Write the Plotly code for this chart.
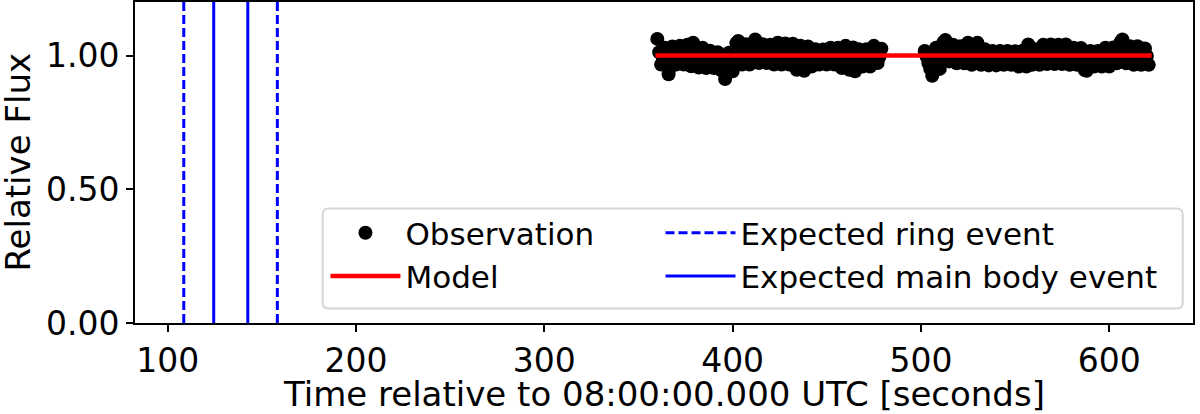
import plotly.graph_objects as go

# Observation: time (s after 08:00:00.000 UTC) and relative flux
obs1_time = [
    360, 361, 362, 363, 364, 365, 366, 367, 368, 369,
    370, 371, 372, 373, 374, 375, 376, 377, 378, 379,
    380, 381, 382, 383, 384, 385, 386, 387, 388, 389,
    390, 391, 392, 393, 394, 395, 396, 397, 398, 399,
    400, 401, 402, 403, 404, 405, 406, 407, 408, 409,
    410, 411, 412, 413, 414, 415, 416, 417, 418, 419,
    420, 421, 422, 423, 424, 425, 426, 427, 428, 429,
    430, 431, 432, 433, 434, 435, 436, 437, 438, 439,
    440, 441, 442, 443, 444, 445, 446, 447, 448, 449,
    450, 451, 452, 453, 454, 455, 456, 457, 458, 459,
    460, 461, 462, 463, 464, 465, 466, 467, 468, 469,
    470, 471, 472, 473, 474, 475, 476, 477, 478, 479,
]
obs1_flux = [
    1.062, 1.012, 0.966, 0.990, 1.029, 0.975, 0.930, 0.958, 1.034, 1.005,
    0.966, 0.992, 1.036, 1.010, 0.966, 0.988, 1.040, 1.008, 0.960, 1.048,
    0.985, 1.015, 0.955, 0.990, 1.029, 1.000, 0.953, 0.985, 1.018, 0.995,
    0.953, 0.980, 1.012, 0.990, 0.945, 0.965, 0.912, 0.940, 1.010, 0.975,
    0.941, 0.985, 1.046, 1.054, 1.000, 0.966, 0.990, 1.042, 1.010, 0.966,
    0.995, 1.035, 1.060, 1.020, 0.972, 0.998, 1.042, 1.010, 0.972, 0.995,
    1.040, 1.005, 0.966, 0.992, 1.048, 1.012, 0.966, 0.990, 1.045, 1.008,
    0.966, 0.995, 1.044, 1.000, 0.947, 0.975, 1.036, 0.995, 0.943, 0.972,
    1.034, 1.000, 0.959, 0.985, 1.023, 0.995, 0.966, 0.990, 1.022, 0.998,
    0.966, 0.992, 1.029, 1.000, 0.966, 0.985, 1.029, 0.995, 0.953, 0.980,
    1.036, 1.005, 0.947, 0.975, 1.030, 0.941, 0.985, 1.023, 0.995, 0.959,
    0.985, 1.023, 1.005, 0.959, 0.988, 1.036, 1.005, 0.972, 0.995, 1.025,
]
obs2_time = [
    502, 503, 504, 505, 506, 507, 508, 509, 510, 511,
    512, 513, 514, 515, 516, 517, 518, 519, 520, 521,
    522, 523, 524, 525, 526, 527, 528, 529, 530, 531,
    532, 533, 534, 535, 536, 537, 538, 539, 540, 541,
    542, 543, 544, 545, 546, 547, 548, 549, 550, 551,
    552, 553, 554, 555, 556, 557, 558, 559, 560, 561,
    562, 563, 564, 565, 566, 567, 568, 569, 570, 571,
    572, 573, 574, 575, 576, 577, 578, 579, 580, 581,
    582, 583, 584, 585, 586, 587, 588, 589, 590, 591,
    592, 593, 594, 595, 596, 597, 598, 599, 600, 601,
    602, 603, 604, 605, 606, 607, 608, 609, 610, 611,
    612, 613, 614, 615, 616, 617, 618, 619, 620, 621,
]
obs2_flux = [
    1.017, 0.995, 0.971, 0.950, 0.924, 0.960, 1.029, 0.990, 0.950, 1.000,
    1.050, 1.058, 1.010, 0.978, 0.998, 1.040, 1.010, 0.971, 0.995, 1.035,
    1.005, 0.971, 0.992, 1.048, 1.010, 0.965, 0.990, 1.040, 1.048, 1.000,
    0.965, 0.988, 1.023, 0.995, 0.963, 0.985, 1.017, 0.995, 0.963, 0.985,
    1.017, 0.998, 0.965, 0.985, 1.017, 1.000, 0.965, 0.988, 1.016, 0.995,
    0.959, 0.982, 1.018, 1.000, 0.959, 1.041, 1.010, 0.965, 0.990, 1.023,
    0.998, 0.965, 0.990, 1.040, 1.005, 0.968, 0.995, 1.041, 1.008, 0.968,
    0.992, 1.040, 1.005, 0.968, 0.995, 1.041, 1.005, 0.965, 0.990, 1.029,
    1.000, 0.965, 0.990, 1.028, 0.995, 0.946, 0.943, 0.975, 1.017, 0.990,
    0.959, 0.985, 1.017, 0.995, 0.959, 0.985, 1.029, 1.000, 0.959, 0.988,
    1.030, 0.998, 0.971, 1.010, 1.050, 1.060, 1.020, 0.971, 0.995, 1.035,
    1.005, 0.965, 0.990, 1.035, 1.000, 0.965, 0.990, 1.026, 0.998, 0.965,
]

model_time = [359.0, 622.5]
model_flux = [1.0, 1.0]

ring_event_times = [108.5, 158.2]
body_event_times = [124.4, 142.5]

x_range = [82.6, 644.5]
y_range = [0.0, 1.2]
x_ticks = [100, 200, 300, 400, 500, 600]
y_ticks = [0.0, 0.5, 1.0]
y_ticklabels = ["0.00", "0.50", "1.00"]

x_title = "Time relative to 08:00:00.000 UTC [seconds]"
y_title = "Relative Flux"

FONT = "DejaVu Sans"


def vlines(times):
    xs, ys = [], []
    for t in times:
        xs += [t, t, None]
        ys += [y_range[0], y_range[1], None]
    return xs, ys


fig = go.Figure()

fig.add_trace(
    go.Scatter(
        x=obs1_time + [None] + obs2_time,
        y=obs1_flux + [None] + obs2_flux,
        mode="markers",
        marker={"color": "black", "size": 14, "line": {"width": 0}},
        name="Observation",
        legend="legend",
    )
)

fig.add_trace(
    go.Scatter(
        x=model_time, y=model_flux, mode="lines",
        line={"color": "red", "width": 4.5},
        name="Model",
        legend="legend",
    )
)

rx, ry = vlines(ring_event_times)
fig.add_trace(
    go.Scatter(
        x=rx, y=ry, mode="lines",
        line={"color": "blue", "width": 3, "dash": "9px,4px"},
        name="Expected ring event",
        legend="legend2",
    )
)

bx, by = vlines(body_event_times)
fig.add_trace(
    go.Scatter(
        x=bx, y=by, mode="lines",
        line={"color": "blue", "width": 3},
        name="Expected main body event",
        legend="legend2",
    )
)

axis_common = dict(
    showgrid=False,
    zeroline=False,
    showline=True,
    linecolor="black",
    linewidth=2,
    mirror=True,
    ticks="outside",
    ticklen=7,
    tickwidth=2,
    tickcolor="black",
    automargin=False,
    tickfont={"size": 33, "color": "black", "family": FONT},
)

fig.update_xaxes(range=x_range, tickvals=x_ticks, **axis_common)
fig.update_yaxes(range=y_range, tickvals=y_ticks, ticktext=y_ticklabels, **axis_common)

# axis titles placed like the matplotlib original
title_font = {"size": 34, "color": "black", "family": FONT}
fig.add_annotation(
    text=x_title, xref="paper", yref="paper", x=0.5, y=-0.222,
    xanchor="center", yanchor="middle", showarrow=False, font=title_font,
)
fig.add_annotation(
    text=y_title, xref="paper", yref="paper", x=-0.1115, y=0.5,
    xanchor="center", yanchor="middle", textangle=-90, showarrow=False,
    font=title_font,
)

# legend frame (matplotlib-style rounded box) spanning both legend columns
bx0, bx1, by0, by1 = 0.1774, 0.9903, 0.0449, 0.3564
rx_, ry_ = 0.006, 0.019
frame_path = (
    f"M{bx0 + rx_},{by0} L{bx1 - rx_},{by0} Q{bx1},{by0} {bx1},{by0 + ry_} "
    f"L{bx1},{by1 - ry_} Q{bx1},{by1} {bx1 - rx_},{by1} "
    f"L{bx0 + rx_},{by1} Q{bx0},{by1} {bx0},{by1 - ry_} "
    f"L{bx0},{by0 + ry_} Q{bx0},{by0} {bx0 + rx_},{by0} Z"
)
fig.add_shape(
    type="path", path=frame_path, xref="paper", yref="paper",
    line={"color": "#d6d6d6", "width": 2}, fillcolor="white", layer="above",
)

legend_common = dict(
    orientation="v",
    yanchor="top",
    y=0.364,
    xanchor="left",
    itemwidth=70,
    traceorder="normal",
    font={"size": 31, "color": "black", "family": FONT},
    bgcolor="rgba(0,0,0,0)",
    borderwidth=0,
)

fig.update_layout(
    width=1200,
    height=414,
    margin={"l": 135, "r": 7, "t": 2, "b": 91},
    plot_bgcolor="white",
    paper_bgcolor="white",
    font={"family": FONT, "color": "black"},
    showlegend=True,
    legend=dict(x=0.180, **legend_common),
    legend2=dict(x=0.4967, **legend_common),
)

fig.write_html(
    "out.html",
    config={"displayModeBar": False},
    post_script="document.body.style.margin = '0';",
)
